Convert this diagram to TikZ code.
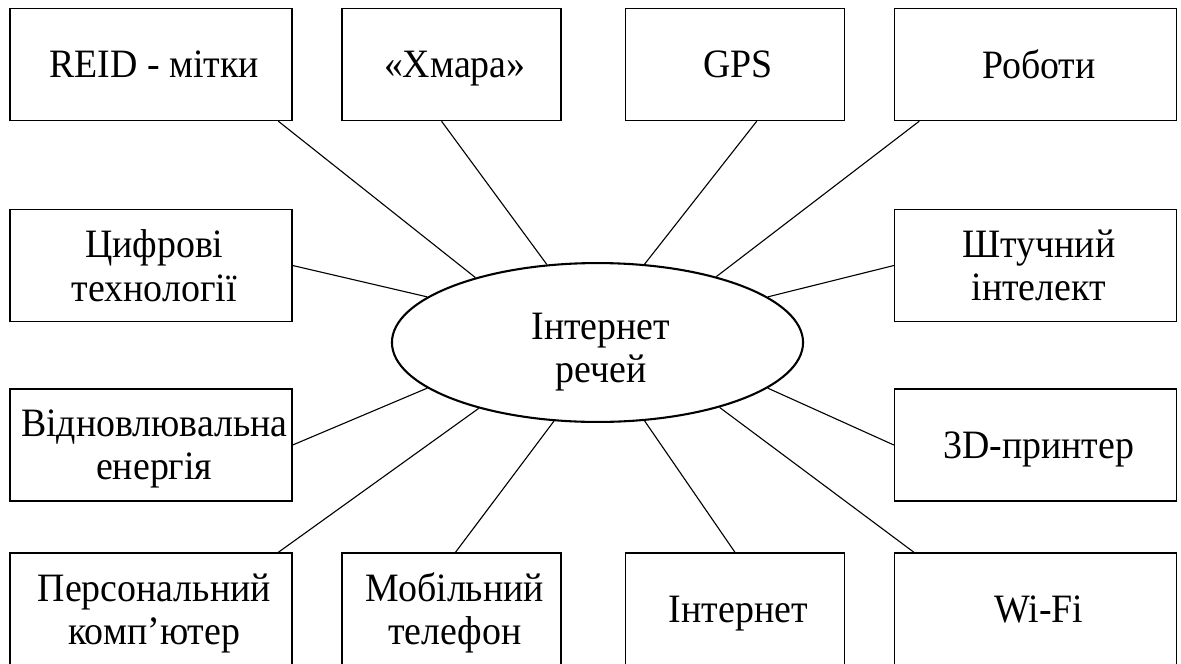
\documentclass[tikz,border=0pt]{standalone}
\usepackage{fontspec}
\setmainfont[FakeStretch=0.94]{Liberation Serif}
\usetikzlibrary{shapes.geometric}
\tikzset{
	wideBox/.style={draw, line width=0.5pt, minimum width=101.5pt, minimum height=40.3pt, inner sep=0pt, align=center, text depth=0pt},
	narrowBox/.style={wideBox, minimum width=78.8pt},
	hubEllipse/.style={draw, ellipse, line width=0.75pt, minimum width=148pt, minimum height=57.2pt, inner sep=0pt, align=center, text depth=0pt},
	spoke/.style={line width=0.4pt}
}
\begin{document}
\begin{tikzpicture}[x=0.36pt, y=-0.36pt]
			\newcommand{\myfontboxes}{
				\fontsize{14.5}{15.5}\selectfont
			}%Page frame
			\useasboundingbox (0,0) rectangle (1181,663);
			\tikzset{every node/.append style={font=\myfontboxes}}
			%The hub in the middle
			\coordinate (centerHub) at (597.5,342.5);
			\node [hubEllipse] (iot) at (centerHub) {\rule{0pt}{13pt}Інтернет\\речей};
			%cells00
			\coordinate (center00) at (151,64.5);
			\node [wideBox] (rfid) at (center00) {REID - мітки};
			%cells01
			\coordinate (center01) at (451.5,64.5);
			\node [narrowBox] (cloud) at (center01) {«Хмара»};
			%cells02
			\coordinate (center02) at (735,64.5);
			\node [narrowBox] (gps) at (center02) {GPS};
			%cells03
			\coordinate (center03) at (1035.5,64.5);
			\node [wideBox] (robots) at (center03) {Роботи};
			%cells10
			\coordinate (center10) at (151,265.5);
			\node [wideBox] (digital) at (center10) {Цифрові\\технології};
			%cells13
			\coordinate (center13) at (1035.5,265.5);
			\node [wideBox] (ai) at (center13) {Штучний\\інтелект};
			%cells20
			\coordinate (center20) at (151,445);
			\node [wideBox] (energy) at (center20) {Відновлювальна\\енергія};
			%cells23
			\coordinate (center23) at (1035.5,445);
			\node [wideBox] (printer) at (center23) {3D-принтер};
			%cells30
			\coordinate (center30) at (151,609);
			\node [wideBox] (pc) at (center30) {Персональний\\комп’ютер};
			%cells31
			\coordinate (center31) at (451.5,609);
			\node [narrowBox] (phone) at (center31) {Мобільний\\телефон};
			%cells32
			\coordinate (center32) at (735,609);
			\node [narrowBox] (internet) at (center32) {Інтернет};
			%cells33
			\coordinate (center33) at (1035.5,609);
			\node [wideBox] (wifi) at (center33) {Wi-Fi};
			%Spokes from the boxes to the hub
			\draw [spoke] (rfid.336) -- (iot.152);
			\draw [spoke] (cloud.260) -- (iot.123);
			\draw [spoke] (gps.291) -- (iot.59);
			\draw [spoke] (robots.206) -- (iot.29);
			\draw [spoke] (digital.east) -- (iot.165);
			\draw [spoke] (ai.west) -- (iot.15);
			\draw [spoke] (energy.east) -- (iot.195);
			\draw [spoke] (printer.west) -- (iot.345);
			\draw [spoke] (pc.24) -- (iot.209);
			\draw [spoke] (phone.86) -- (iot.241);
			\draw [spoke] (internet.north) -- (iot.301);
			\draw [spoke] (wifi.155) -- (iot.332);
\end{tikzpicture}
\end{document}
